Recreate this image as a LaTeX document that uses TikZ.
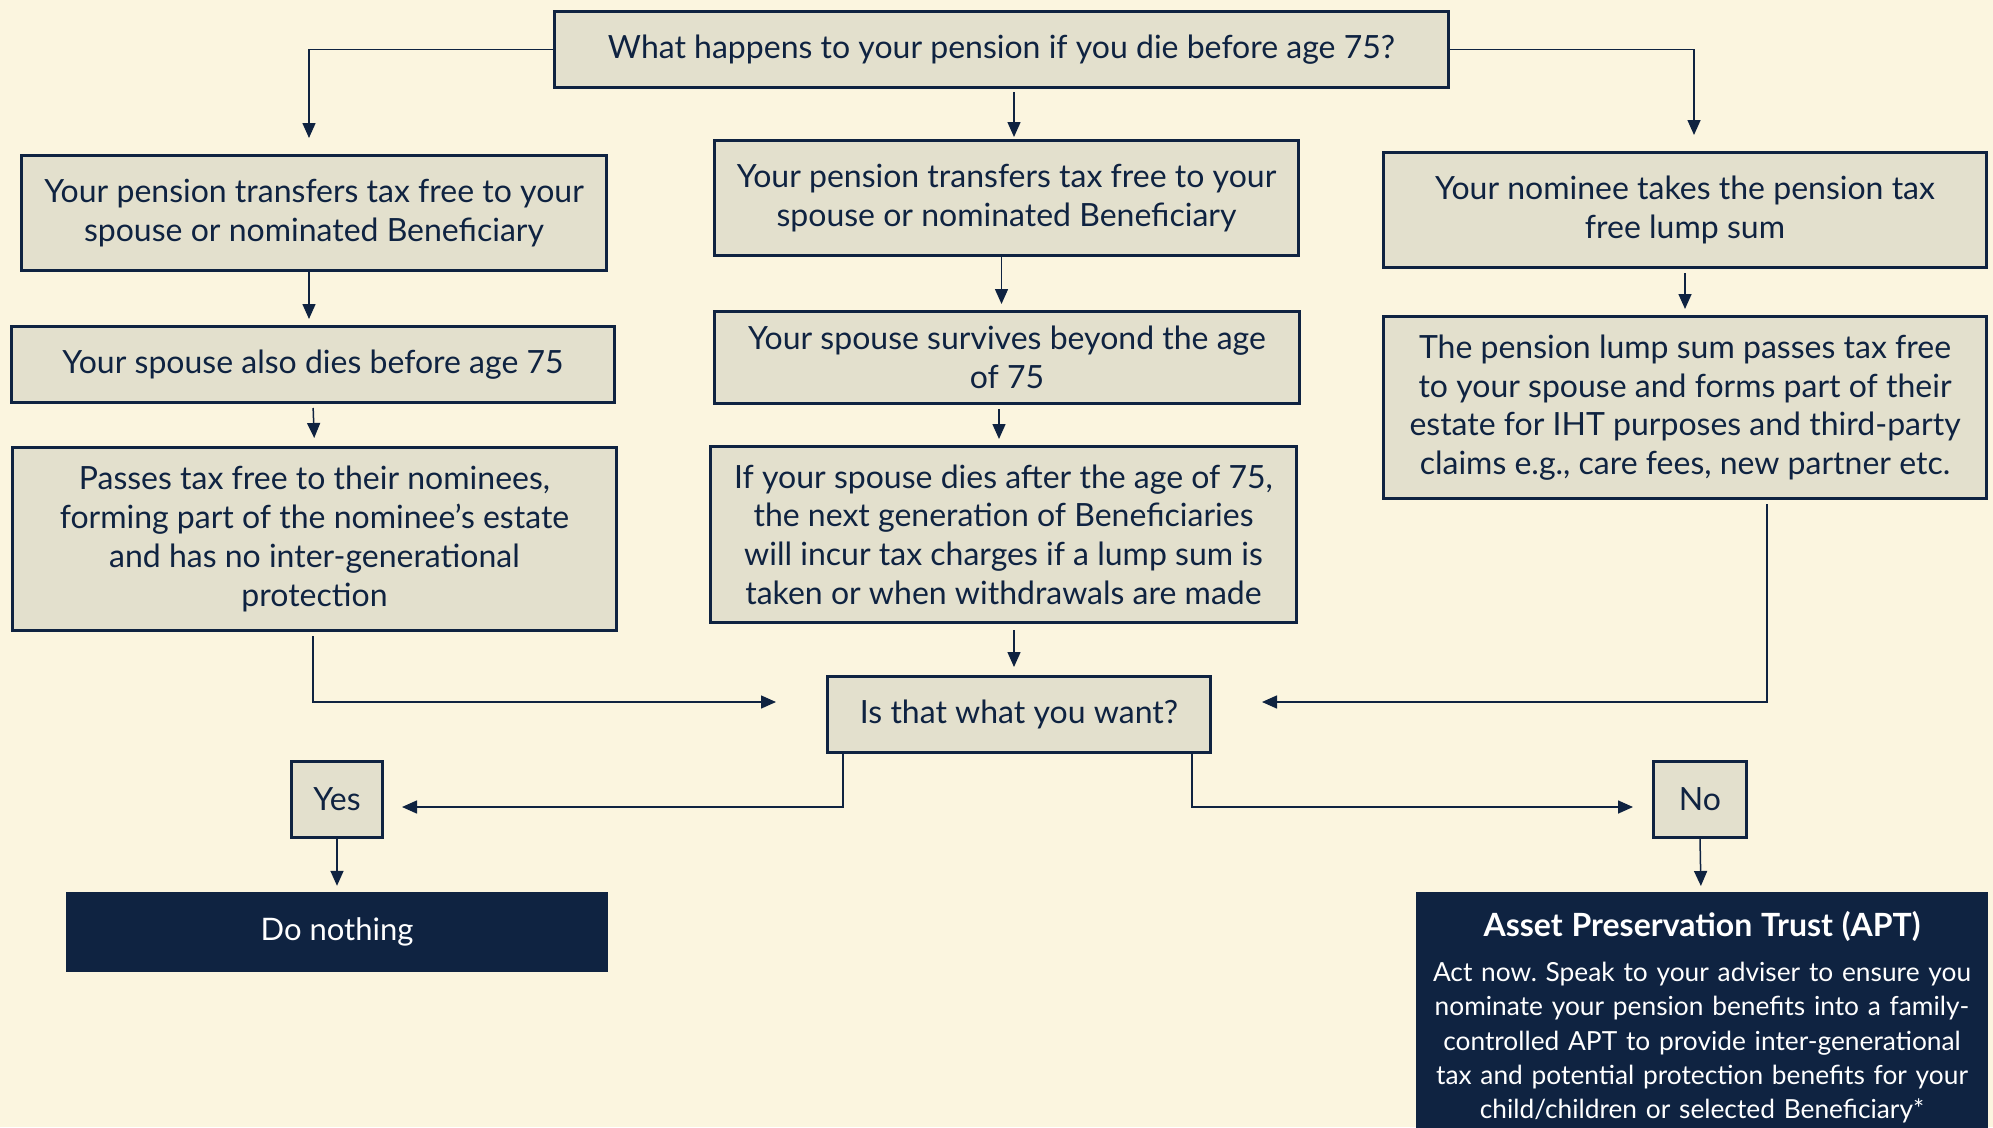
\documentclass[tikz,border=0pt]{standalone}
\usepackage{fontspec}
\setmainfont{Lato}
\frenchspacing
\usetikzlibrary{positioning, arrows.meta, calc}
\definecolor{navy}{HTML}{0F2341}
\definecolor{boxfill}{HTML}{E3E0CD}
\definecolor{paper}{HTML}{FBF5DF}
\tikzset{
        my-box/.style={
            draw=navy, fill=boxfill, line width=3pt, text=navy, align=center,
            inner sep=0pt, font=\fontsize{32}{38.7}\selectfont
        },
        my-dark-box/.style={
            fill=navy, text=white, align=center, inner sep=0pt
        },
        my-arrow/.style={
            draw=navy, line width=1.5pt, -{Triangle[length=15pt,width=13pt]}
        },
}

\begin{document}
\begin{tikzpicture}[x=1pt, y=-1pt]

        %PAGE
        \clip (0,0) rectangle (1993,1127);
        \fill [paper] (0,0) rectangle (1993,1127);

        %DRAW NODES (question on top, three columns under it)
        \node [my-box, minimum width=894pt, minimum height=76pt] (TOP) at (1001.5,49.5)
              {What happens to your pension if you die before age 75?};

        \node [my-box, minimum width=585pt, minimum height=115pt] (L1) at (314,213)
              {Your pension transfers tax free to your\\spouse or nominated Beneficiary};
        \node [my-box, minimum width=603pt, minimum height=76pt]  (L2) at (313,364.5)
              {Your spouse also dies before age 75};
        \node [my-box, minimum width=604pt, minimum height=183pt] (L3) at (314.5,539)
              {Passes tax free to their nominees,\\forming part of the nominee's estate\\and has no inter-generational\\protection};

        \node [my-box, minimum width=584pt, minimum height=115pt] (M1) at (1006.5,198)
              {Your pension transfers tax free to your\\spouse or nominated Beneficiary};
        \node [my-box, minimum width=585pt, minimum height=92pt]  (M2) at (1007,357.5)
              {Your spouse survives beyond the age\\of 75};
        \node [my-box, minimum width=586pt, minimum height=176pt] (M3) at (1003.5,534.5)
              {If your spouse dies after the age of 75,\\the next generation of Beneficiaries\\will incur tax charges if a lump sum is\\taken or when withdrawals are made};

        \node [my-box, minimum width=603pt, minimum height=115pt] (R1) at (1685,210)
              {Your nominee takes the pension tax\\free lump sum};
        \node [my-box, minimum width=603pt, minimum height=182pt] (R2) at (1685,407.5)
              {The pension lump sum passes tax free\\to your spouse and forms part of their\\estate for IHT purposes and third-party\\claims e.g., care fees, new partner etc.};

        \node [my-box, minimum width=383pt, minimum height=76pt]  (Q)   at (1019,714.5)
              {Is that what you want?};
        \node [my-box, minimum width=91pt, minimum height=76pt]   (YES) at (337,799.5) {Yes};
        \node [my-box, minimum width=93pt, minimum height=76pt]   (NO)  at (1700,799.5) {No};

        \node [my-dark-box, minimum width=542pt, minimum height=80pt,
               font=\fontsize{31}{38.7}\selectfont] (DONOTHING) at (337,932) {Do nothing};
        \node [my-dark-box, anchor=north, text width=572pt, minimum height=250pt,
               inner ysep=8pt, font=\fontsize{26.3}{34.3}\selectfont] (APT) at (1702,892)
              {{\bfseries\fontsize{32}{38}\selectfont Asset Preservation Trust (APT)\par}
               \vspace{11pt}
               Act now. Speak to your adviser to ensure you\\
               nominate your pension benefits into a family-\\
               controlled APT to provide inter-generational\\
               tax and potential protection benefits for your\\
               child/children or selected Beneficiary*\par};

        % CONNECT TOP
        \draw [my-arrow, shorten >=16pt] (TOP.west) -| ($(L1.north)+(-5,0)$);
        \draw [my-arrow, shorten <=3pt, shorten >=2pt] ($(TOP.south)+(12.5,0)$) -- ($(M1.north)+(7.5,0)$);
        \draw [my-arrow, shorten >=16pt] (TOP.east) -| ($(R1.north)+(9,0)$);

        % CONNECT COLUMNS
        \draw [my-arrow, shorten >=6pt] ($(L1.south)+(-5,0)$) -- ($(L2.north)+(-4,0)$);
        \draw [my-arrow, shorten <=4pt, shorten >=8pt] (L2.south) -- (L3.north);
        \draw [my-arrow, shorten >=6pt] ($(M1.south)+(-5,0)$) -- ($(M2.north)+(-5.5,0)$);
        \draw [my-arrow, shorten <=4pt, shorten >=6pt] ($(M2.south)+(-8,0)$) -- ($(M3.north)+(-4.5,0)$);
        \draw [my-arrow, shorten <=6pt, shorten >=8pt] ($(M3.south)+(10.5,0)$) -- ($(Q.north)+(-5,0)$);
        \draw [my-arrow, shorten <=4pt, shorten >=6pt] ($(R1.south)+(0,0)$) -- (R2.north);

        % CONNECT INTO QUESTION
        \draw [my-arrow, shorten <=4pt, shorten >=50pt] ($(L3.south)+(-1.5,0)$) |- ($(Q.west)+(0,-12.5)$);
        \draw [my-arrow, shorten <=4pt, shorten >=50pt] ($(R2.south)+(82,0)$) |- ($(Q.east)+(0,-12.5)$);

        % CONNECT OUTPUTS
        \draw [my-arrow, shorten >=18pt] ($(Q.south)+(-176,0)$) |- ($(YES.east)+(0,7.5)$);
        \draw [my-arrow, shorten >=19pt] ($(Q.south)+(173,0)$) |- ($(NO.west)+(0,7.5)$);
        \draw [my-arrow, shorten >=6pt] (YES.south) -- (DONOTHING.north);
        \draw [my-arrow, shorten >=6pt] (NO.south) -- ($(APT.north)+(-1,0)$);

    \end{tikzpicture}
\end{document}
